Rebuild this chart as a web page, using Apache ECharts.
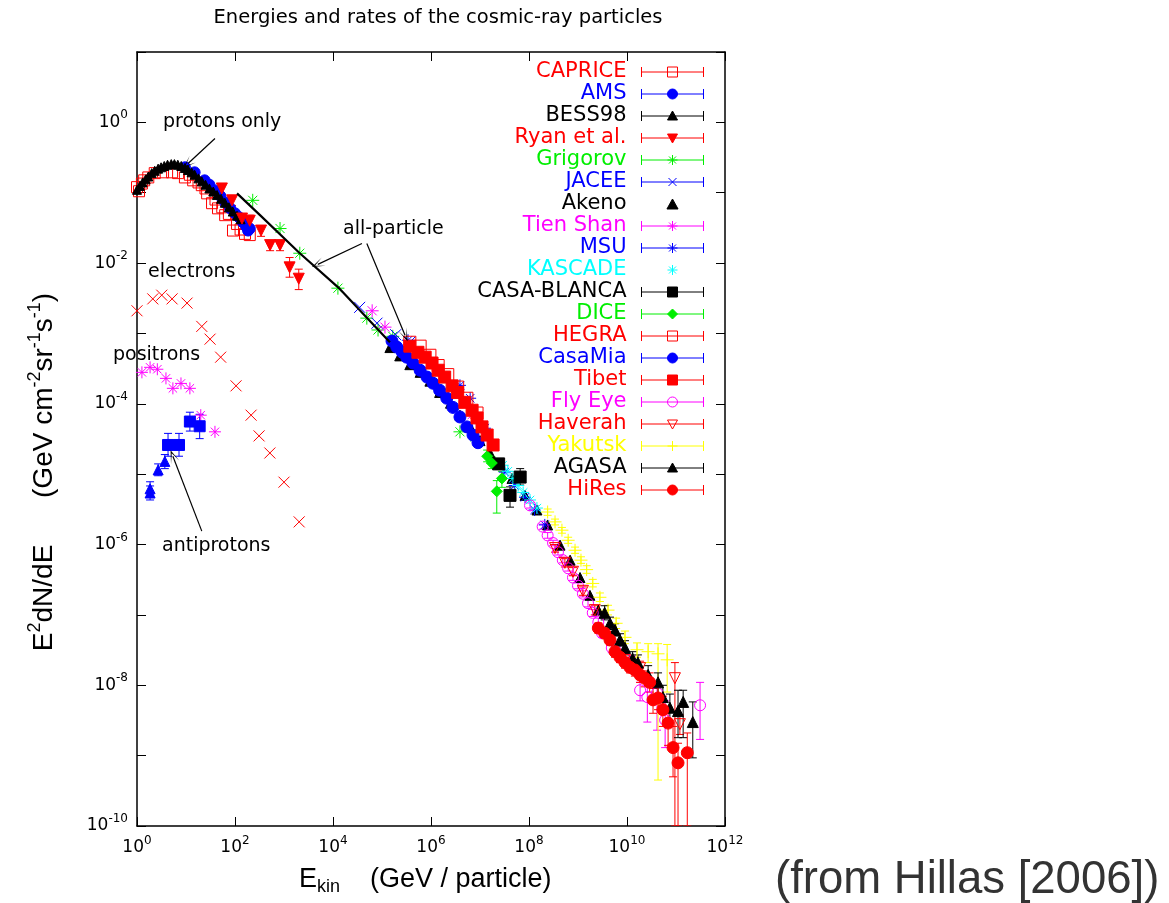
<!DOCTYPE html>
<html>
<head>
<meta charset="utf-8">
<script src="https://cdn.jsdelivr.net/npm/echarts@6/dist/echarts.min.js"></script>
<style>html,body{margin:0;background:#fff}#main{width:1169px;height:903px}</style>
</head>
<body>
<div id="main"></div>
<script>
// E (GeV), E^2 dN/dE ; rows with 4 values carry [E, F, low, high]
var caprice = [[1.0,0.12],[1.1,0.105],[1.26,0.135],[1.4,0.15],[1.7,0.165],[2.3,0.19],[3.4,0.195],[5.2,0.195],[6.9,0.19],[9.5,0.165],[12,0.18],[14,0.15],[18,0.14],[21,0.128],[25,0.115],[27,0.098],[34,0.071],[40,0.08],[45,0.06],[55,0.062],[63,0.048],[75,0.05],[91,0.029],[110,0.036],[130,0.03],[160,0.026],[200,0.025]];
var ams = [[9.5,0.23],[15,0.195],[24,0.15],[30,0.13],[39,0.108],[50,0.09],[63,0.073],[80,0.06],[100,0.051],[120,0.045],[145,0.038],[170,0.033],[185,0.029],[200,0.031]];
var bess98 = [[1.0,0.11],[1.15,0.125],[1.3,0.14],[1.5,0.155],[1.7,0.17],[2.0,0.19],[2.3,0.205],[2.7,0.22],[3.1,0.23],[3.6,0.24],[4.2,0.25],[5.0,0.255],[5.8,0.255],[6.8,0.25],[8.0,0.24],[9.5,0.225],[11,0.21],[13,0.195],[15,0.18],[18,0.16],[21,0.145],[25,0.13],[30,0.115],[36,0.104],[43,0.093],[52,0.082],[62,0.072],[75,0.062],[90,0.054],[110,0.047],[130,0.042]];
var ryan = [[54,0.115,0.095,0.13],[87,0.078,0.066,0.09],[139,0.043,0.037,0.05],[200,0.040,0.033,0.048],[340,0.029,0.024,0.034],[520,0.018,0.015,0.021],[830,0.018,0.015,0.021],[1300,0.0087,0.0063,0.012],[2000,0.006,0.0042,0.0082]];
var grigorov = [[230,0.078],[830,0.031],[2100,0.0138],[1.26e4,0.0044],[4.9e4,1.65e-3],[8.3e4,1.12e-3],[1.66e5,9.1e-4],[3.9e6,4.0e-5],[7.9e6,3.4e-5]];
var jacee = [[3.5e4,2.35e-3],[7.9e4,1.4e-3],[1.9e5,9.6e-4],[3.7e5,7.5e-4]];
var akeno = [[1.45e5,6.3e-4],[2.3e5,4.8e-4],[3.7e5,3.6e-4],[6.0e5,2.8e-4],[9.5e5,2.1e-4],[1.5e6,1.45e-4],[2.5e6,1.02e-4],[3.9e6,6.9e-5],[6.3e6,4.7e-5],[1.0e7,3.0e-5],[1.6e7,2.0e-5],[2.6e7,1.38e-5],[4.5e7,8.7e-6],[8.3e7,5.0e-6],[1.45e8,3.1e-6],[2.4e8,1.9e-6],[4.3e8,9.8e-7],[6.9e8,6.0e-7],[1.1e9,3.4e-7],[1.75e9,1.9e-7],[2.6e9,1.17e-7]];
var tienShan = [[6.3e4,2.1e-3],[1.15e5,1.23e-3],[3.5e6,1.6e-4],[6.9e6,7.0e-5]];
var msu = [[3.4e5,8.0e-4],[3.9e6,1.83e-4],[6.3e6,1.2e-4],[1.26e7,4.5e-5],[3.2e7,1.07e-5],[5.1e7,6.9e-6],[8.3e7,4.7e-6],[1.3e8,3.1e-6],[2.1e8,1.9e-6]];
var kascade = [[2.9e7,1.34e-5],[3.7e7,1.1e-5],[4.7e7,8.7e-6],[6.0e7,6.9e-6],[7.6e7,5.5e-6],[1.05e8,4.3e-6],[1.45e8,3.3e-6]];
var casaBlanca = [[2.4e7,1.4e-5,1.2e-5,1.6e-5],[6.6e7,9.1e-6,7.0e-6,1.2e-5],[4.1e7,5.0e-6,3.4e-6,6.6e-6]];
var dice = [[1.4e7,1.8e-5,1.5e-5,2.2e-5],[1.74e7,1.44e-5,1.2e-5,1.75e-5],[2.8e7,8.7e-6,6.5e-6,1.1e-5],[2.2e7,5.7e-6,2.8e-6,8.1e-6]];
var hegra = [[3.7e5,7.5e-4],[6.0e5,6.6e-4],[9.5e5,4.9e-4],[1.4e6,3.5e-4],[2.2e6,2.6e-4],[3.5e6,1.73e-4],[5.4e6,1.2e-4],[8.7e6,7.4e-5]];
var casaMia = [[1.6e5,7.8e-4],[2.0e5,6.4e-4],[2.6e5,5.4e-4],[3.2e5,4.6e-4],[4.3e5,3.8e-4],[6.0e5,3.0e-4],[8.3e5,2.4e-4],[1.1e6,1.96e-4],[1.5e6,1.56e-4],[2.1e6,1.2e-4],[2.8e6,8.9e-5],[3.9e6,6.5e-5],[5.4e6,4.7e-5],[7.2e6,3.6e-5],[9.1e6,2.8e-5]];
var tibet = [[3.7e5,6.6e-4],[5.4e5,5.4e-4],[7.6e5,4.6e-4],[1.05e6,3.8e-4],[1.4e6,3.0e-4],[1.9e6,2.4e-4],[2.7e6,1.8e-4],[3.5e6,1.45e-4],[4.9e6,1.05e-4],[6.9e6,8.1e-5],[8.7e6,6.3e-5],[1.1e7,4.7e-5],[1.4e7,3.6e-5],[1.85e7,2.6e-5]];
var flyEye = [[1.05e8,3.6e-6,3.3e-6,3.9e-6],[1.9e8,1.8e-6,1.65e-6,1.95e-6],[2.4e8,1.35e-6,1.23e-6,1.48e-6],[3.1e8,1.05e-6,9.6e-7,1.15e-6],[3.9e8,7.8e-7,7.1e-7,8.6e-7],[4.9e8,6.0e-7,5.5e-7,6.6e-7],[6.3e8,4.6e-7,4.2e-7,5.0e-7],[7.9e8,3.4e-7,3.1e-7,3.7e-7],[1.0e9,2.6e-7,2.35e-7,2.85e-7],[1.26e9,2.0e-7,1.8e-7,2.2e-7],[1.6e9,1.47e-7,1.3e-7,1.65e-7],[2.0e9,1.07e-7,9.5e-8,1.2e-7],[2.6e9,7.9e-8,7.0e-8,9.0e-8],[3.1e9,5.5e-8,4.8e-8,6.3e-8],[4.9e9,3.4e-8,2.9e-8,4.0e-8],[7.2e9,3.5e-8,3.0e-8,4.1e-8],[9.1e9,2.4e-8,2.0e-8,2.9e-8],[1.26e10,2.1e-8,1.7e-8,2.6e-8],[1.85e10,8.5e-9,6.0e-9,1.1e-8],[2.6e10,6.8e-9,3.0e-9,1.0e-8],[4.1e10,7.8e-9,2.3e-9,9.8e-9],[6.0e10,3.2e-9,1.3e-9,6.0e-9],[3.1e11,5.2e-9,1.7e-9,1.1e-8]];
var haverah = [[3.4e8,8.9e-7,7.8e-7,1.0e-6],[5.4e8,5.5e-7,4.8e-7,6.3e-7],[7.9e8,4.1e-7,3.6e-7,4.7e-7],[1.26e9,2.2e-7,1.9e-7,2.5e-7],[2.2e9,1.17e-7,1.0e-7,1.35e-7],[4.5e9,4.8e-8,4.0e-8,5.7e-8],[9.1e9,2.3e-8,1.9e-8,2.8e-8],[1.85e10,1.75e-8,1.35e-8,2.2e-8],[9.5e10,1.26e-8,1e-10,2.1e-8],[1.2e11,2.8e-9,2.0e-9,3.8e-9]];
var yakutsk = [[2.4e8,2.9e-6,2.6e-6,3.2e-6],[3.4e8,2.1e-6,1.9e-6,2.3e-6],[4.7e8,1.6e-6,1.45e-6,1.75e-6],[6.3e8,1.15e-6,1.04e-6,1.27e-6],[8.7e8,8.3e-7,7.5e-7,9.2e-7],[1.15e9,6.0e-7,5.4e-7,6.7e-7],[1.5e9,4.4e-7,3.9e-7,5.0e-7],[2.0e9,2.8e-7,2.5e-7,3.2e-7],[2.8e9,1.78e-7,1.55e-7,2.05e-7],[4.1e9,1.17e-7,1.0e-7,1.37e-7],[6.0e9,7.6e-8,6.4e-8,9.0e-8],[9.1e9,4.8e-8,3.9e-8,5.9e-8],[1.6e10,3.2e-8,2.5e-8,4.0e-8],[2.7e10,3.0e-8,2.1e-8,3.9e-8],[4.3e10,2.8e-8,4.5e-10,3.9e-8],[6.6e10,2.3e-8,8e-9,3.8e-8]];
var agasa = [[3.5e9,1.07e-7,8.5e-8,1.35e-7],[4.5e9,7.6e-8,6.2e-8,9.3e-8],[5.7e9,6.1e-8,5.0e-8,7.5e-8],[7.2e9,4.4e-8,3.6e-8,5.4e-8],[9.1e9,3.4e-8,2.7e-8,4.3e-8],[1.3e10,2.4e-8,1.9e-8,3.0e-8],[1.67e10,2.1e-8,1.6e-8,2.7e-8],[2.7e10,1.4e-8,1.0e-8,1.9e-8],[4.3e10,1.1e-8,7.5e-9,1.5e-8],[5.4e10,6.8e-9,4.2e-9,1.0e-8],[7.5e10,4.8e-9,2.6e-9,7.5e-9],[1.1e11,4.3e-9,1.8e-9,8.5e-9],[1.4e11,5.8e-9,1.8e-9,8.5e-9],[2.2e11,3.0e-9,9.3e-10,5.8e-9]];
var hiRes = [[2.6e9,6.5e-8,5.5e-8,7.7e-8],[3.5e9,5.5e-8,4.6e-8,6.5e-8],[4.5e9,4.4e-8,3.7e-8,5.2e-8],[5.7e9,3.0e-8,2.5e-8,3.6e-8],[7.2e9,2.5e-8,2.1e-8,3.0e-8],[9.1e9,2.1e-8,1.75e-8,2.5e-8],[1.15e10,1.8e-8,1.5e-8,2.2e-8],[1.45e10,1.65e-8,1.35e-8,2.0e-8],[1.85e10,1.4e-8,1.1e-8,1.75e-8],[2.3e10,1.26e-8,9.5e-9,1.6e-8],[2.9e10,1.1e-8,8.0e-9,1.5e-8],[3.4e10,6.2e-9,4.0e-9,9.0e-9],[4.3e10,6.6e-9,4.5e-9,9.5e-9],[5.4e10,4.5e-9,2.6e-9,7.0e-9],[6.9e10,2.9e-9,1.4e-9,5.0e-9],[8.7e10,1.3e-9,5e-10,2.6e-9],[1.1e11,7.9e-10,1e-10,1.5e-9],[1.7e11,1.1e-9,1e-10,2.1e-9]];
var electrons = [[1.0,2.1e-3],[2.1,3.1e-3],[3.2,3.5e-3],[5.2,3.1e-3],[10.5,2.7e-3],[21,1.26e-3],[31,8.3e-4],[51,4.6e-4],[105,1.8e-4],[213,6.9e-5],[310,3.5e-5],[515,2.0e-5],[1000,7.7e-6],[2040,2.1e-6]];
var positrons = [[1.26,2.8e-4],[1.85,3.3e-4],[2.6,3.1e-4],[3.9,2.3e-4],[5.4,1.66e-4],[7.9,1.95e-4],[12,1.66e-4],[20,6.9e-5],[39,4.0e-5]];
var antiprotonSq = [[4.3,2.6e-5,1.8e-5,3.8e-5],[7.2,2.6e-5,1.8e-5,3.8e-5],[12,5.6e-5,4.1e-5,7.6e-5],[19,4.8e-5,3.2e-5,7.1e-5]];
var antiprotonTri = [[1.85,6.2e-6,4.9e-6,7.8e-6],[1.85,5.4e-6,4.3e-6,6.8e-6],[2.7,1.15e-5,9.5e-6,1.4e-5],[3.7,1.52e-5,1.2e-5,1.9e-5]];
var allParticle = [[110,0.098],[324,0.048],[2100,0.0138],[1.38e4,0.0043],[1.45e5,7.5e-4]];
// annotation arrows: [from, to]
var arrows = [[[39,0.59],[11,0.26]],[[3.9e4,0.019],[4.9e3,0.0096]],[[4.9e4,0.019],[2.95e5,9.4e-4]],[[21,1.55e-6],[5.4,1.8e-5]]];

var RED = '#ff0000', BLUE = '#0000ff', BLACK = '#000000', GREEN = '#00ee00', MAG = '#ff00ff', CYAN = '#00ffff', YEL = '#ffff00';
var AST = 'path://M5,0L5,10M0,5L10,5M1.5,1.5L8.5,8.5M8.5,1.5L1.5,8.5';
var CROSS = 'path://M0,0L10,10M10,0L0,10';
var PLUS = 'path://M5,0L5,10M0,5L10,5';
var DOWN = 'path://M0,0L10,0L5,9Z';

function pts(name, data, symbol, size, color, open) {
    return {
        type: 'scatter', name: name, data: data, symbol: symbol, symbolSize: size, silent: true,
        itemStyle: {color: open ? 'rgba(0,0,0,0)' : color, borderColor: color, borderWidth: 1, opacity: 1}
    };
}
function bars(data, color) {
    return {
        type: 'custom', data: data, silent: true, clip: true,
        encode: {x: 0, y: 1},
        renderItem: function (params, api) {
            var x = api.value(0);
            var a = api.coord([x, api.value(2)]);
            var b = api.coord([x, api.value(3)]);
            var s = {stroke: color, lineWidth: 1};
            return {type: 'group', children: [
                {type: 'line', shape: {x1: a[0], y1: a[1], x2: b[0], y2: b[1]}, style: s},
                {type: 'line', shape: {x1: a[0] - 4, y1: a[1], x2: a[0] + 4, y2: a[1]}, style: s},
                {type: 'line', shape: {x1: b[0] - 4, y1: b[1], x2: b[0] + 4, y2: b[1]}, style: s}
            ]};
        }
    };
}

// legend samples: error bar line with the marker in the middle
var BAR = 'M0,5L62,5M0,0L0,10M62,0L62,10';
var M = {
    sq: 'M26,0L36,0L36,10L26,10Z',
    ci: 'M26,5A5,5,0,1,1,36,5A5,5,0,1,1,26,5Z',
    up: 'M26,9L31,0L36,9Z',
    dn: 'M26,1L36,1L31,10Z',
    ast: 'M31,0L31,10M26,5L36,5M27.5,1.5L34.5,8.5M34.5,1.5L27.5,8.5',
    x: 'M27,1L35,9M35,1L27,9',
    di: 'M31,0L36,5L31,10L26,5Z',
    pl: 'M31,0L31,10M26,5L36,5'
};
function leg(name, color, mark, open, noBar) {
    return {
        name: name,
        icon: 'path://' + (noBar ? '' : BAR) + M[mark],
        itemStyle: {color: open ? 'rgba(0,0,0,0)' : color, borderColor: color, borderWidth: 1},
        textStyle: {color: color}
    };
}

var FONT = 'DejaVu Sans';
function expLabel(v) {
    var e = Math.round(Math.log10(v));
    return '{b|10}{s|' + e + '}';
}
var tickRich = {
    b: {fontFamily: FONT, fontSize: 17, lineHeight: 26, color: '#000'},
    s: {fontFamily: FONT, fontSize: 12, lineHeight: 10, verticalAlign: 'top', color: '#000'}
};
function logAxis(pos, min, max, step, labels) {
    return {
        type: 'log', logBase: 10, position: pos, min: min, max: max, interval: step,
        axisLine: {show: true, lineStyle: {color: '#000', width: 1.5}},
        axisTick: {show: true, inside: true, length: 9, lineStyle: {color: '#000', width: 1}},
        splitLine: {show: false},
        axisLabel: labels ? {show: true, margin: 9, rich: tickRich, formatter: labels} : {show: false}
    };
}

var myChart = echarts.init(document.getElementById('main'));

var option = {
    animation: false,
    backgroundColor: '#fff',
    grid: {left: 137, top: 52, right: 444, bottom: 77},
    xAxis: [
        logAxis('bottom', 1, 1e12, 2, expLabel),
        logAxis('top', 1, 1e12, 2, null)
    ],
    yAxis: [
        logAxis('left', 1e-10, 10, 1, function (v) {
            var e = Math.round(Math.log10(v));
            return e % 2 === 0 ? expLabel(v) : '';
        }),
        logAxis('right', 1e-10, 10, 1, null)
    ],
    legend: {
        orient: 'vertical', align: 'right', right: 465, top: 61, padding: 0,
        itemWidth: 62, itemHeight: 10, itemGap: 0, selectedMode: false,
        textStyle: {fontFamily: FONT, fontSize: 21, lineHeight: 22, padding: [0, 10, 0, 0]},
        data: [
            leg('CAPRICE', RED, 'sq', true),
            leg('AMS', BLUE, 'ci'),
            leg('BESS98', BLACK, 'up'),
            leg('Ryan et al.', RED, 'dn'),
            leg('Grigorov', GREEN, 'ast', true),
            leg('JACEE', BLUE, 'x', true),
            leg('Akeno', BLACK, 'up', false, true),
            leg('Tien Shan', MAG, 'ast', true),
            leg('MSU', BLUE, 'ast', true),
            leg('KASCADE', CYAN, 'ast', true, true),
            leg('CASA-BLANCA', BLACK, 'sq'),
            leg('DICE', GREEN, 'di'),
            leg('HEGRA', RED, 'sq', true),
            leg('CasaMia', BLUE, 'ci'),
            leg('Tibet', RED, 'sq'),
            leg('Fly Eye', MAG, 'ci', true),
            leg('Haverah', RED, 'dn', true),
            leg('Yakutsk', YEL, 'pl', true),
            leg('AGASA', BLACK, 'up'),
            leg('HiRes', RED, 'ci')
        ]
    },
    graphic: [
        {type: 'text', x: 438, y: 18, style: {text: 'Energies and rates of the cosmic-ray particles', fontFamily: FONT, fontSize: 19.5, fill: '#000', align: 'center', verticalAlign: 'middle'}},
        {type: 'text', x: 163, y: 122, style: {text: 'protons only', fontFamily: FONT, fontSize: 19, fill: '#000', verticalAlign: 'middle'}},
        {type: 'text', x: 343, y: 229, style: {text: 'all-particle', fontFamily: FONT, fontSize: 19, fill: '#000', verticalAlign: 'middle'}},
        {type: 'text', x: 148, y: 272, style: {text: 'electrons', fontFamily: FONT, fontSize: 19, fill: '#000', verticalAlign: 'middle'}},
        {type: 'text', x: 113, y: 355, style: {text: 'positrons', fontFamily: FONT, fontSize: 19, fill: '#000', verticalAlign: 'middle'}},
        {type: 'text', x: 162, y: 546, style: {text: 'antiprotons', fontFamily: FONT, fontSize: 19, fill: '#000', verticalAlign: 'middle'}},
        {type: 'text', x: 299, y: 880, style: {
            text: '{n|E}{k|kin}{n|    (GeV / particle)}', verticalAlign: 'middle',
            rich: {
                n: {fontFamily: 'Liberation Sans', fontSize: 27, lineHeight: 32, fill: '#000'},
                k: {fontFamily: 'Liberation Sans', fontSize: 18, lineHeight: 16, verticalAlign: 'bottom', fill: '#000'}
            }
        }},
        {type: 'text', x: 44, y: 472, rotation: Math.PI / 2, style: {
            text: '{n|E}{p|2}{n|dN/dE      (GeV cm}{p|-2}{n|sr}{p|-1}{n|s}{p|-1}{n|)}', align: 'center', verticalAlign: 'middle',
            rich: {
                n: {fontFamily: 'Liberation Sans', fontSize: 28, lineHeight: 36, fill: '#000'},
                p: {fontFamily: 'Liberation Sans', fontSize: 18, lineHeight: 16, verticalAlign: 'top', fill: '#000'}
            }
        }},
        {type: 'text', x: 775, y: 880, style: {text: '(from Hillas [2006])', fontFamily: 'Liberation Sans', fontSize: 45.5, fill: '#333', verticalAlign: 'middle'}}
    ],
    series: [
        {
            type: 'line', name: 'all-particle', data: allParticle, showSymbol: false, silent: true,
            lineStyle: {color: '#000', width: 2.2},
            markLine: {
                silent: true, animation: false,
                symbol: ['none', 'path://M0,12L5,0L10,12L5,3Z'], symbolSize: [9, 13],
                lineStyle: {color: '#000', width: 1.2, type: 'solid'},
                label: {show: false},
                data: arrows.map(function (a) { return [{coord: a[0]}, {coord: a[1]}]; })
            }
        },
        pts('electrons', electrons, CROSS, 11, RED, true),
        pts('positrons', positrons, AST, 12, MAG, true),
        bars(antiprotonSq, BLUE),
        pts('antiprotons', antiprotonSq, 'rect', 11, BLUE),
        bars(antiprotonTri, BLUE),
        pts('antiprotons2', antiprotonTri, 'triangle', 10, BLUE),
        pts('CAPRICE', caprice, 'rect', 11, RED, true),
        pts('AMS', ams, 'circle', 11, BLUE),
        pts('BESS98', bess98, 'triangle', 9, BLACK),
        bars(ryan, RED),
        pts('Ryan et al.', ryan, DOWN, 11, RED),
        pts('Grigorov', grigorov, AST, 13, GREEN, true),
        pts('JACEE', jacee, CROSS, 11, BLUE, true),
        pts('Akeno', akeno, 'triangle', 10, BLACK),
        pts('Tien Shan', tienShan, AST, 13, MAG, true),
        pts('MSU', msu, AST, 12, BLUE, true),
        pts('KASCADE', kascade, AST, 12, CYAN, true),
        bars(casaBlanca, BLACK),
        pts('CASA-BLANCA', casaBlanca, 'rect', 12, BLACK),
        bars(dice, GREEN),
        pts('DICE', dice, 'diamond', 11, GREEN),
        pts('HEGRA', hegra, 'rect', 12, RED, true),
        pts('CasaMia', casaMia, 'circle', 12, BLUE),
        pts('Tibet', tibet, 'rect', 12, RED),
        bars(flyEye, MAG),
        pts('Fly Eye', flyEye, 'circle', 11, MAG, true),
        bars(haverah, RED),
        pts('Haverah', haverah, DOWN, 11, RED, true),
        bars(yakutsk, YEL),
        pts('Yakutsk', yakutsk, PLUS, 13, YEL, true),
        bars(agasa, BLACK),
        pts('AGASA', agasa, 'triangle', 11, BLACK),
        bars(hiRes, RED),
        pts('HiRes', hiRes, 'circle', 12, RED)
    ]
};

myChart.setOption(option, true);
</script>
</body>
</html>
